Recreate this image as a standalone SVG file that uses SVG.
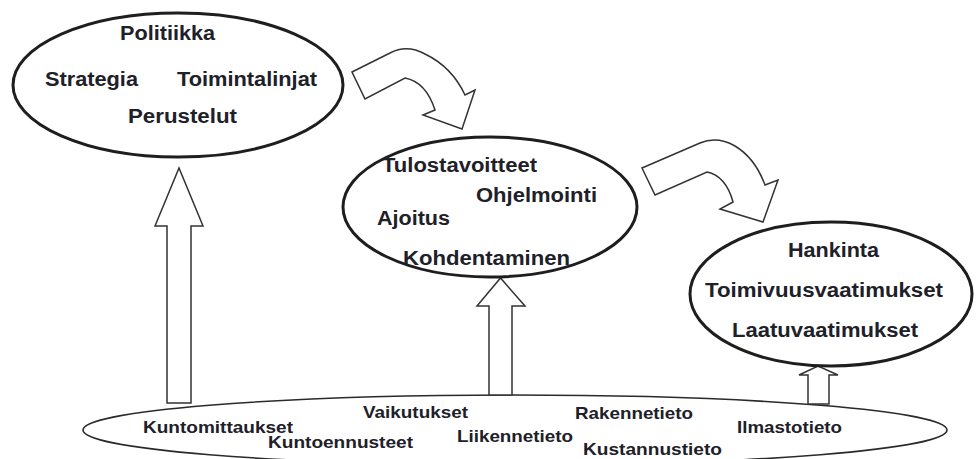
<svg xmlns="http://www.w3.org/2000/svg" width="976" height="459" viewBox="0 0 976 459">
  <style>
    .bg { fill: #ffffff; }
    .node { fill: #ffffff; stroke: #1e1e1e; stroke-width: 3; }
    .base { fill: #ffffff; stroke: #2a2a2a; stroke-width: 1.6; }
    .arrow { fill: #ffffff; stroke: #333333; stroke-width: 1.5; stroke-linejoin: miter; }
    .t { font-family: "Liberation Sans", Arial, sans-serif; font-weight: bold; font-size: 20px; fill: #202028; }
    .s { font-family: "Liberation Sans", Arial, sans-serif; font-weight: bold; font-size: 17px; fill: #202028; }
  </style>
  <rect class="bg" x="0" y="0" width="976" height="459"/>

  <g id="data">
    <ellipse class="base" cx="515" cy="430" rx="432" ry="35"/>
    <text class="s" x="143" y="433" textLength="150" lengthAdjust="spacingAndGlyphs">Kuntomittaukset</text>
    <text class="s" x="268" y="448" textLength="145" lengthAdjust="spacingAndGlyphs">Kuntoennusteet</text>
    <text class="s" x="363" y="418" textLength="105" lengthAdjust="spacingAndGlyphs">Vaikutukset</text>
    <text class="s" x="457" y="442" textLength="116" lengthAdjust="spacingAndGlyphs">Liikennetieto</text>
    <text class="s" x="575" y="419" textLength="118" lengthAdjust="spacingAndGlyphs">Rakennetieto</text>
    <text class="s" x="583" y="455" textLength="139" lengthAdjust="spacingAndGlyphs">Kustannustieto</text>
    <text class="s" x="737" y="433" textLength="105" lengthAdjust="spacingAndGlyphs">Ilmastotieto</text>
  </g>

  <g id="connectors">
    <path class="arrow" d="M167,403 L167,226 L155,226 L179,168 L203,226 L191,226 L191,403 Z"/>
    <path class="arrow" d="M489,395 L489,306 L477,306 L500.5,278 L525,306 L512,306 L512,395 Z"/>
    <path class="arrow" d="M808,404 L808,375 L799,375 L818,366 L838,375 L829,375 L829,404 Z"/>
    <path class="arrow" d="M352,72 L390,53 Q407,44 425,54 Q452,67 465,95 L475,90 L462,129 L423,115 L435,110 Q426,82 405,78 L365,99 Z"/>
    <path class="arrow" d="M642,168 L700,143 Q717,136 735,146 Q755,158 765,185 L778,180 L763,222 L720,209 L733,202 Q726,176 707,172 L655,195 Z"/>
  </g>

  <g id="policy">
    <ellipse class="node" cx="178" cy="85" rx="165" ry="72"/>
    <text class="t" x="120" y="40" textLength="95" lengthAdjust="spacingAndGlyphs">Politiikka</text>
    <text class="t" x="45" y="86" textLength="93" lengthAdjust="spacingAndGlyphs">Strategia</text>
    <text class="t" x="177" y="86" textLength="140" lengthAdjust="spacingAndGlyphs">Toimintalinjat</text>
    <text class="t" x="128" y="123" textLength="109" lengthAdjust="spacingAndGlyphs">Perustelut</text>
  </g>

  <g id="programming">
    <ellipse class="node" cx="490" cy="207" rx="147" ry="70"/>
    <text class="t" x="382" y="172" textLength="155" lengthAdjust="spacingAndGlyphs">Tulostavoitteet</text>
    <text class="t" x="476" y="202" textLength="121" lengthAdjust="spacingAndGlyphs">Ohjelmointi</text>
    <text class="t" x="377" y="225" textLength="73" lengthAdjust="spacingAndGlyphs">Ajoitus</text>
    <text class="t" x="403" y="265" textLength="167" lengthAdjust="spacingAndGlyphs">Kohdentaminen</text>
  </g>

  <g id="procurement">
    <ellipse class="node" cx="831" cy="294" rx="141" ry="72"/>
    <text class="t" x="788" y="257" textLength="91" lengthAdjust="spacingAndGlyphs">Hankinta</text>
    <text class="t" x="705" y="297" textLength="238" lengthAdjust="spacingAndGlyphs">Toimivuusvaatimukset</text>
    <text class="t" x="732" y="337" textLength="186" lengthAdjust="spacingAndGlyphs">Laatuvaatimukset</text>
  </g>
</svg>
